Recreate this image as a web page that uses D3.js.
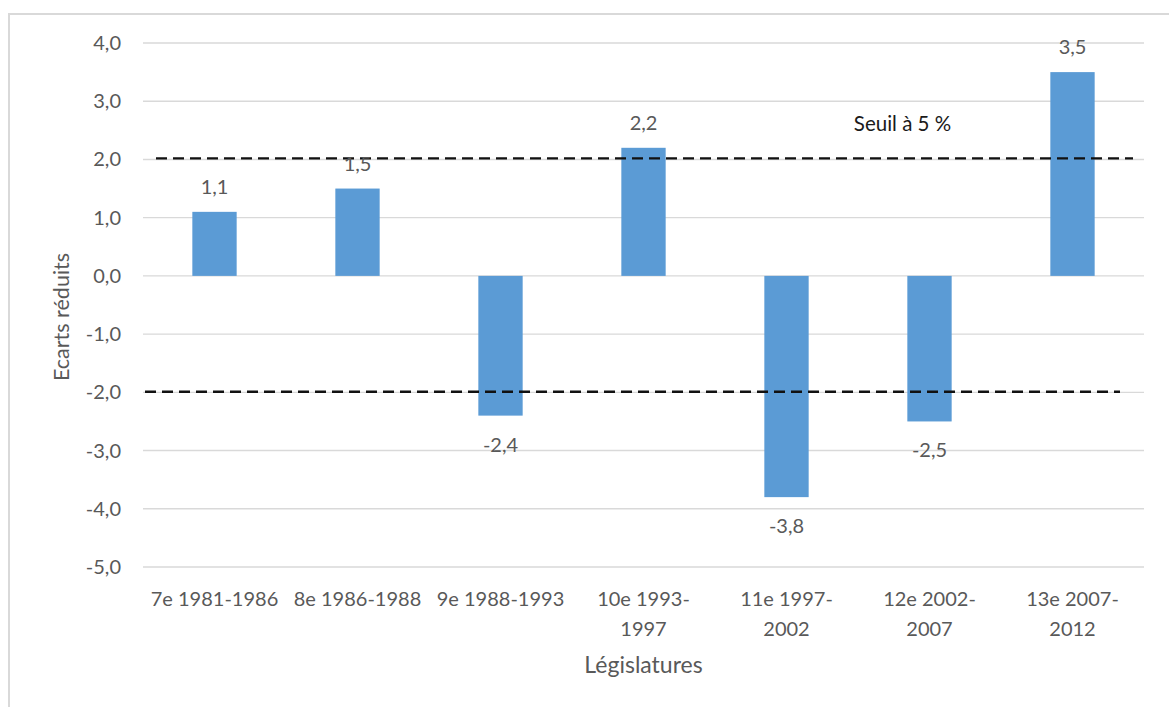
<!DOCTYPE html>
<html>
<head>
<meta charset="utf-8">
<script src="https://cdn.jsdelivr.net/npm/d3@7/dist/d3.min.js"></script>
<style>
  html, body { margin: 0; padding: 0; background: #fff; }
  text { font-family: Lato, "Open Sans", "Liberation Sans", sans-serif; fill: #595959; }
</style>
</head>
<body>
<div id="chart"></div>
<script>
var categories = ['7e 1981-1986', '8e 1986-1988', '9e 1988-1993', '10e 1993-1997',
                  '11e 1997-2002', '12e 2002-2007', '13e 2007-2012']
  , tickLines = [['7e 1981-1986'], ['8e 1986-1988'], ['9e 1988-1993'],
                 ['10e 1993-', '1997'], ['11e 1997-', '2002'], ['12e 2002-', '2007'], ['13e 2007-', '2012']]
  , values = [1.1, 1.5, -2.4, 2.2, -3.8, -2.5, 3.5]
  , yTicks = [4, 3, 2, 1, 0, -1, -2, -3, -4, -5]
  , thresholds = [2.02, -1.99]
  , thresholdLabel = 'Seuil à 5 %'
  ;

var w = 1169
  , h = 707
  , plotL = 143
  , plotR = 1144
  , plotT = 43
  , plotB = 567
  , fmt = function (v) { return d3.format('.1f')(v).replace('.', ',').replace('−', '-'); }
  ;

var svg = d3.select('#chart').append('svg')
            .attr('width', w).attr('height', h)
  , x = d3.scaleBand().domain(categories).range([plotL, plotR])
          .paddingInner(0.69).paddingOuter(0.345)
  , y = d3.scaleLinear().domain([-5, 4]).range([plotB, plotT])
  ;

// frame (top and left edges only, as in the cropped original)
svg.append('path')
  .attr('d', 'M9,' + h + 'V14H' + w)
  .attr('fill', 'none').attr('stroke', '#d9d9d9').attr('stroke-width', 2);

// gridlines + y labels
svg.append('g').selectAll('line').data(yTicks).enter()
  .append('line')
  .attr('x1', plotL).attr('x2', plotR)
  .attr('y1', function (d) { return y(d); })
  .attr('y2', function (d) { return y(d); })
  .attr('stroke', '#d9d9d9').attr('stroke-width', 1.4);

svg.append('g').selectAll('text').data(yTicks).enter()
  .append('text')
  .attr('x', 121)
  .attr('y', function (d) { return y(d); })
  .attr('dy', '0.35em')
  .attr('text-anchor', 'end')
  .style('font-size', '20px')
  .text(fmt);

// bars
svg.append('g').selectAll('rect').data(values).enter()
  .append('rect')
  .attr('x', function (d, i) { return x(categories[i]); })
  .attr('width', x.bandwidth())
  .attr('y', function (d) { return y(Math.max(0, d)); })
  .attr('height', function (d) { return Math.abs(y(d) - y(0)); })
  .attr('fill', '#5b9bd5');

// threshold lines
svg.append('g').selectAll('line').data(thresholds).enter()
  .append('line')
  .attr('x1', function (d, i) { return i === 0 ? plotL + 13 : plotL + 2; })
  .attr('x2', function (d, i) { return i === 0 ? plotR - 11 : plotR - 24; })
  .attr('y1', function (d) { return y(d); })
  .attr('y2', function (d) { return y(d); })
  .attr('stroke', '#111').attr('stroke-width', 2.3)
  .attr('stroke-dasharray', '11,6');

// value labels
svg.append('g').selectAll('text').data(values).enter()
  .append('text')
  .attr('x', function (d, i) { return x(categories[i]) + x.bandwidth() / 2; })
  .attr('y', function (d) { return d >= 0 ? y(d) - 18 : y(d) + 36; })
  .attr('text-anchor', 'middle')
  .style('font-size', '20px')
  .text(fmt);

svg.append('text')
  .attr('x', x(categories[5]) + x.bandwidth() / 2 - 27)
  .attr('y', y(2.49))
  .attr('text-anchor', 'middle')
  .style('font-size', '20.5px')
  .style('fill', '#1a1a1a')
  .text(thresholdLabel);

// x tick labels
var ticks = svg.append('g').selectAll('text').data(tickLines).enter()
  .append('text')
  .attr('text-anchor', 'middle')
  .style('font-size', '20px');

ticks.selectAll('tspan').data(function (d, i) {
    return d.map(function (s) { return { s: s, i: i }; });
  }).enter()
  .append('tspan')
  .attr('x', function (d) { return x(categories[d.i]) + x.bandwidth() / 2; })
  .attr('y', function (d, j) { return 606 + j * 30; })
  .text(function (d) { return d.s; });

// axis titles
svg.append('text')
  .attr('x', (plotL + plotR) / 2)
  .attr('y', 673)
  .attr('text-anchor', 'middle')
  .style('font-size', '23px')
  .text('Législatures');

svg.append('text')
  .attr('transform', 'translate(69,317) rotate(-90)')
  .attr('text-anchor', 'middle')
  .style('font-size', '21.5px')
  .text('Ecarts réduits');
</script>
</body>
</html>
